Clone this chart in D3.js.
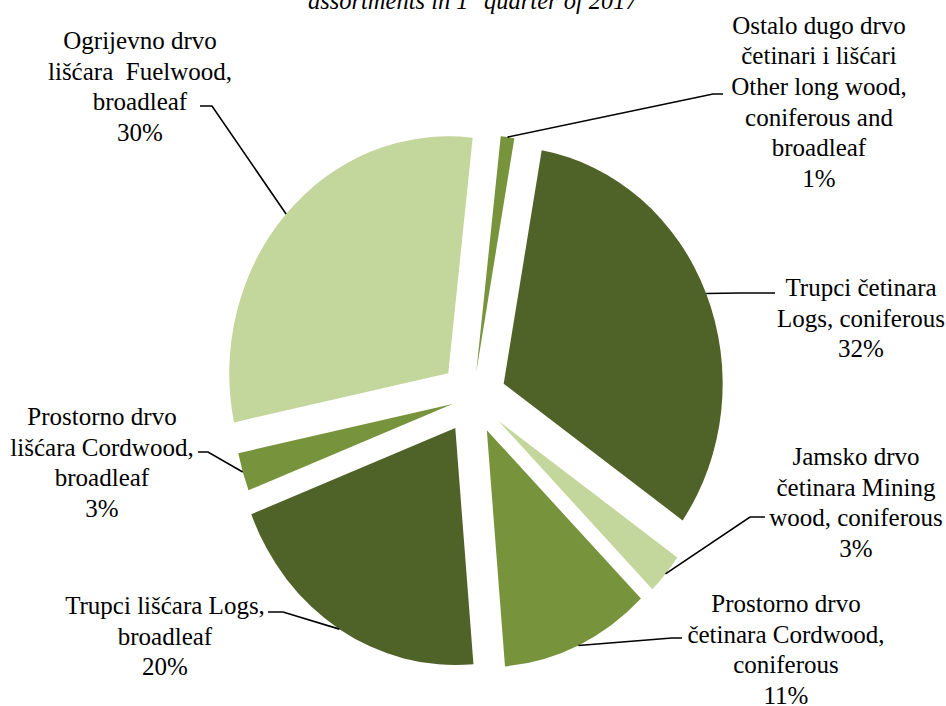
<!DOCTYPE html>
<html>
<head>
<meta charset="utf-8">
<script src="https://cdn.jsdelivr.net/npm/d3@7"></script>
<style>
  body { margin: 0; background: #fff; }
  text { font-family: "Liberation Serif", "Times New Roman", serif; fill: #000; }
</style>
</head>
<body>
<div id="chart"></div>
<script>
        // Data (shares in %), clockwise from the top
        const categories = [
            "Ostalo dugo drvo četinari i lišćari Other long wood, coniferous and broadleaf",
            "Trupci četinara Logs, coniferous",
            "Jamsko drvo četinara Mining wood, coniferous",
            "Prostorno drvo četinara Cordwood, coniferous",
            "Trupci lišćara Logs, broadleaf",
            "Prostorno drvo lišćara Cordwood, broadleaf",
            "Ogrijevno drvo lišćara  Fuelwood, broadleaf"
        ];
        // how each category name wraps in the label
        const labelLines = [
            ["Ostalo dugo drvo", "četinari i lišćari", "Other long wood,", "coniferous and", "broadleaf"],
            ["Trupci četinara", "Logs, coniferous"],
            ["Jamsko drvo", "četinara Mining", "wood, coniferous"],
            ["Prostorno drvo", "četinara Cordwood,", "coniferous"],
            ["Trupci lišćara Logs,", "broadleaf"],
            ["Prostorno drvo", "lišćara Cordwood,", "broadleaf"],
            ["Ogrijevno drvo", "lišćara\u00a0 Fuelwood,", "broadleaf"]
        ];
        const shares = [1.0, 32.0, 2.8, 11.1, 20.4, 2.6, 30.1];
        const fills = ["#77933C", "#4F6228", "#C3D69B", "#77933C", "#4F6228", "#77933C", "#C3D69B"];
        const titleText = "assortments in 1";

        // Layout
        const width = 946, height = 706;
        const cx = 472.9, cy = 397.5;
        const radius = 237;
        const squeeze = 0.924;              // picture is slightly narrower than tall
        const startDeg = 6.4;
        const explode = [0.11, 0.152, 0.152, 0.152, 0.152, 0.097, 0.152];
        const lineHeight = 30.7;

        // label placement: text centre x, first baseline y, leader elbow and end
        const labelPos = [
            { x: 819, y: 33.5, elbow: [713, 94], end: [723, 94] },
            { x: 861, y: 296, elbow: [740, 293], end: [775, 293] },
            { x: 856, y: 465, elbow: [750, 517], end: [765, 517] },
            { x: 786, y: 612, elbow: [672, 638], end: [682, 638] },
            { x: 165, y: 614, elbow: [283, 612], end: [268, 612] },
            { x: 102, y: 425, elbow: [208, 452], end: [198, 452] },
            { x: 140, y: 49, elbow: [212, 106], end: [200, 106] }
        ];

        const data = shares.map((v, i) => ({ name: categories[i], value: v, i: i }));

        const svg = d3.select("#chart")
            .append("svg")
            .attr("width", width)
            .attr("height", height);

        const start = startDeg * Math.PI / 180;
        const pie = d3.pie()
            .sort(null)
            .value(d => d.value)
            .startAngle(start)
            .endAngle(start + 2 * Math.PI);

        const arcs = pie(data);

        const arc = d3.arc()
            .innerRadius(0)
            .outerRadius(radius);

        const pieG = svg.append("g")
            .attr("transform", `translate(${cx},${cy}) scale(${squeeze},1)`);

        const mid = d => (d.startAngle + d.endAngle) / 2;

        pieG.selectAll(".slice")
            .data(arcs)
            .enter()
            .append("path")
            .attr("class", "slice")
            .attr("transform", d => {
                const e = explode[d.index] * radius;
                return `translate(${e * Math.sin(mid(d))},${-e * Math.cos(mid(d))})`;
            })
            .attr("d", arc)
            .attr("fill", d => fills[d.index]);

        // leader lines, from the outer edge of each slice at its middle angle
        svg.selectAll(".leader")
            .data(arcs)
            .enter()
            .append("polyline")
            .attr("class", "leader")
            .attr("fill", "none")
            .attr("stroke", "#000")
            .attr("stroke-width", 1.6)
            .attr("points", d => {
                const r = radius * (1 + explode[d.index]);
                const x0 = cx + squeeze * r * Math.sin(mid(d));
                const y0 = cy - r * Math.cos(mid(d));
                const p = labelPos[d.index];
                return [[x0, y0], p.elbow, p.end].map(q => q.join(",")).join(" ");
            });

        // labels
        const labels = svg.selectAll(".label")
            .data(arcs)
            .enter()
            .append("text")
            .attr("class", "label")
            .attr("text-anchor", "middle")
            .style("font-size", "25px");

        labels.each(function (d) {
            const p = labelPos[d.index];
            const lines = labelLines[d.index].concat([Math.round(d.data.value) + "%"]);
            d3.select(this).selectAll("tspan")
                .data(lines)
                .enter()
                .append("tspan")
                .attr("x", p.x)
                .attr("y", (t, k) => p.y + k * lineHeight)
                .text(t => t);
        });

        // title, its upper part falls outside the picture
        const title = svg.append("text")
            .attr("x", cx)
            .attr("y", 9)
            .attr("text-anchor", "middle")
            .style("font-size", "24.5px")
            .style("font-style", "italic");
        title.append("tspan").text(titleText);
        title.append("tspan").text("st").style("font-size", "14px").attr("dy", -10);
        title.append("tspan").text(" quarter of 2017").attr("dy", 10);
</script>
</body>
</html>
